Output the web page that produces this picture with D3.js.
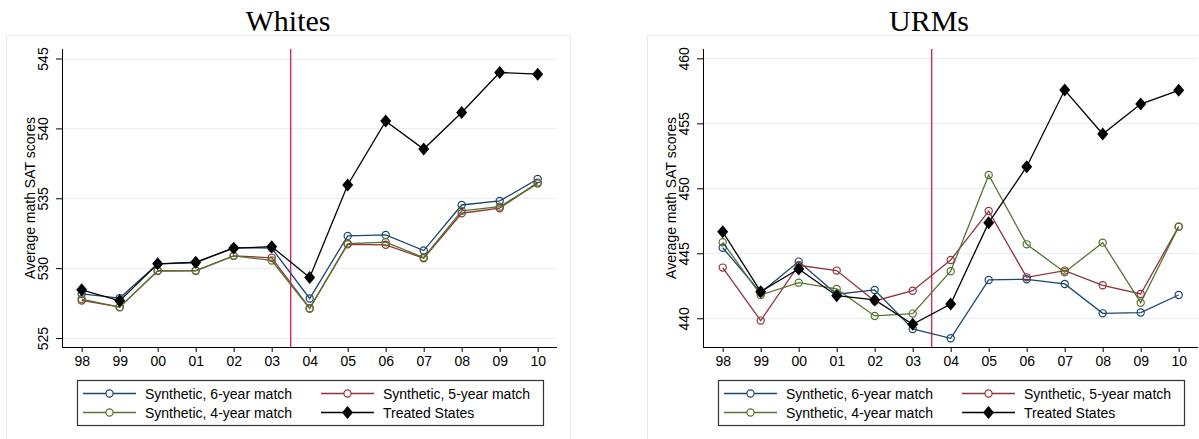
<!DOCTYPE html>
<html><head><meta charset="utf-8">
<script src="https://cdn.jsdelivr.net/npm/d3@7"></script>
<style>body{margin:0;background:#fff}svg{display:block}</style>
</head><body>
<svg id="c" width="1199" height="439"></svg>
<script>
const years = ["98","99","00","01","02","03","04","05","06","07","08","09","10"];
const seriesNames = ["Synthetic, 6-year match","Synthetic, 5-year match","Synthetic, 4-year match","Treated States"];
const seriesColors = ["#1a476f","#90353b","#55752f","#000000"];

const whitesTicks = [525,530,535,540,545];
const whites6 = [528.16,527.86,530.30,530.38,531.47,531.43,527.83,532.31,532.38,531.26,534.52,534.81,536.38];
const whites5 = [527.69,527.21,529.79,529.81,530.88,530.74,527.14,531.71,531.67,530.71,533.93,534.29,536.12];
const whites4 = [527.79,527.21,529.83,529.83,530.88,530.55,527.10,531.76,531.86,530.76,534.10,534.40,536.05];
const whitesT = [528.45,527.66,530.31,530.43,531.43,531.54,529.33,535.95,540.52,538.52,541.14,544.00,543.88];

const urmTicks = [440,445,450,455,460];
const urm6 = [445.43,441.97,444.36,441.85,442.18,439.18,438.46,442.95,443.00,442.64,440.38,440.44,441.79];
const urm5 = [443.90,439.82,444.08,443.67,441.33,442.12,444.49,448.25,443.15,443.67,442.54,441.87,447.05];
const urm4 = [445.85,441.79,442.74,442.26,440.18,440.36,443.62,451.02,445.69,443.54,445.82,441.20,447.05];
const urmT = [446.66,442.05,443.79,441.74,441.41,439.54,441.10,447.36,451.66,457.56,454.18,456.48,457.54];

const svg = d3.select("#c");

function panel(opt){
  const g = svg.append("g");
  const left = opt.x0, right = opt.x0 + 495, top = 49, bottom = 347;
  // outer frame
  g.append("rect").attr("x", opt.fx+0.5).attr("y", 35.5).attr("width", 564).attr("height", 420)
    .attr("fill","none").attr("stroke","#e3edf0").attr("stroke-width",1);
  g.append("text").attr("x", opt.fx + 282).attr("y", 31).attr("text-anchor","middle")
    .attr("font-family","'Liberation Serif','Times New Roman',serif").attr("font-size",30)
    .attr("fill","#000").text(opt.title);

  const x = d3.scalePoint().domain(years).range([left+19.7, left+475.7]);
  const y = d3.scaleLinear().domain(opt.domain).range([bottom, top]);

  // grid
  g.selectAll("line.grid").data(opt.ticks).join("line").attr("class","grid")
    .attr("x1", left).attr("x2", right).attr("y1", d=>Math.round(y(d))+0.5).attr("y2", d=>Math.round(y(d))+0.5)
    .attr("stroke","#e6eff2").attr("stroke-width",1);

  // y axis
  const ya = g.append("g").attr("transform",`translate(${left},0)`)
    .call(d3.axisLeft(y).tickValues(opt.ticks).tickSize(6).tickPadding(0).tickFormat(d3.format("d")));
  ya.select(".domain").attr("stroke","#000").attr("d", `M0.5,${top}V${bottom}`);
  ya.selectAll(".tick line").attr("stroke","#000");
  ya.selectAll(".tick text").attr("transform","rotate(-90)").attr("x",0).attr("y",-14)
    .attr("dy",0).attr("text-anchor","middle").attr("font-family","'Liberation Sans',Arial,sans-serif")
    .attr("font-size",14).attr("fill","#000");

  // x axis
  const xa = g.append("g").attr("transform",`translate(0,${bottom})`)
    .call(d3.axisBottom(x).tickSize(5).tickPadding(4));
  xa.select(".domain").attr("stroke","#000").attr("d", `M${left},0.5H${right}`);
  xa.selectAll(".tick line").attr("stroke","#000");
  xa.selectAll(".tick text").attr("font-family","'Liberation Sans',Arial,sans-serif")
    .attr("font-size",14).attr("fill","#000");

  // y title
  g.append("text").attr("transform",`translate(${left-27},${(top+bottom)/2}) rotate(-90)`)
    .attr("text-anchor","middle").attr("font-family","'Liberation Sans',Arial,sans-serif")
    .attr("font-size",14).attr("fill","#000").text("Average math SAT scores");

  // treatment line
  const xr = (x("03")+x("04"))/2;
  g.append("line").attr("x1",xr).attr("x2",xr).attr("y1",top).attr("y2",bottom)
    .attr("stroke","#d81e4a").attr("stroke-width",1.3);

  const line = d3.line().x((d,i)=>x(years[i])).y(d=>y(d));
  opt.series.forEach((s,k)=>{
    g.append("path").datum(s).attr("d",line).attr("fill","none")
      .attr("stroke",seriesColors[k]).attr("stroke-width",1.3);
  });
  opt.series.forEach((s,k)=>{
    if(k<3){
      g.selectAll(null).data(s).join("circle").attr("cx",(d,i)=>x(years[i])).attr("cy",d=>y(d))
        .attr("r",3.6).attr("fill","none").attr("stroke",seriesColors[k]).attr("stroke-width",1.2);
    } else {
      g.selectAll(null).data(s).join("path")
        .attr("transform",(d,i)=>`translate(${x(years[i])},${y(d)})`)
        .attr("d","M0,-6.5L5.5,0L0,6.5L-5.5,0Z").attr("fill","#000");
    }
  });

  // legend
  const lx = left+15;
  g.append("rect").attr("x",lx+0.5).attr("y",380.5).attr("width",466).attr("height",45)
    .attr("fill","#fff").attr("stroke","#333").attr("stroke-width",1.2);
  const pos = [[lx+6,393.5],[lx+244,393.5],[lx+6,412.5],[lx+244,412.5]];
  seriesNames.forEach((nm,k)=>{
    const [px,py] = pos[k];
    g.append("line").attr("x1",px).attr("x2",px+53).attr("y1",py).attr("y2",py)
      .attr("stroke",seriesColors[k]).attr("stroke-width",1.3);
    if(k<3){
      g.append("circle").attr("cx",px+26.5).attr("cy",py).attr("r",3.6).attr("fill","#fff")
        .attr("stroke",seriesColors[k]).attr("stroke-width",1.2);
    } else {
      g.append("path").attr("transform",`translate(${px+26.5},${py})`)
        .attr("d","M0,-6.5L5.5,0L0,6.5L-5.5,0Z").attr("fill","#000");
    }
    g.append("text").attr("x",px+62).attr("y",py+5).attr("font-family","'Liberation Sans',Arial,sans-serif")
      .attr("font-size",14).attr("fill","#000").text(nm);
  });
}

panel({x0:62, fx:6, title:"Whites", domain:[524.36,545.68], ticks:whitesTicks,
  series:[whites6,whites5,whites4,whitesT]});
panel({x0:703, fx:647, title:"URMs", domain:[437.79,460.72], ticks:urmTicks,
  series:[urm6,urm5,urm4,urmT]});
</script>
</body></html>
